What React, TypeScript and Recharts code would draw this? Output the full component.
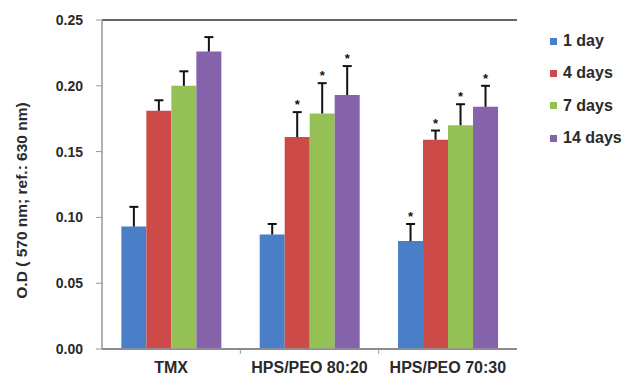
import React from 'react';
import { BarChart, Bar, XAxis, YAxis, CartesianGrid, LabelList } from 'recharts';

const categories = ['TMX', 'HPS/PEO 80:20', 'HPS/PEO 70:30'];
const seriesNames = ['1 day', '4 days', '7 days', '14 days'];
const seriesColors = ['#4a7fc8', '#cc4a48', '#95c055', '#8463aa'];
const day1 = [0.093, 0.087, 0.082];
const day4 = [0.181, 0.161, 0.159];
const day7 = [0.200, 0.179, 0.170];
const day14 = [0.226, 0.193, 0.184];
const err1 = [0.015, 0.008, 0.013];
const err4 = [0.008, 0.019, 0.007];
const err7 = [0.011, 0.023, 0.016];
const err14 = [0.011, 0.022, 0.016];
const star1 = [false, false, true];
const star4 = [false, true, true];
const star7 = [false, true, true];
const star14 = [false, true, true];
const yTicks = [0, 0.05, 0.1, 0.15, 0.2, 0.25];
const yLabel = 'O.D ( 570 nm; ref.: 630 nm)';

const values = [day1, day4, day7, day14];
const errors = [err1, err4, err7, err14];
const stars = [star1, star4, star7, star14];
const keys = ['d1', 'd4', 'd7', 'd14'];

const data = categories.map((c, i) => ({
  name: c,
  d1: values[0][i],
  d4: values[1][i],
  d7: values[2][i],
  d14: values[3][i],
}));

const FONT = 'Liberation Sans, Arial, sans-serif';

const makeErr = (s: number) => (props: any) => {
  const { x, y, width, height, value, index } = props;
  const v = Number(value);
  if (!v || !height) return null;
  const pxPerUnit = height / v;
  const e = errors[s][index] * pxPerUnit;
  const cx = x + width / 2;
  const top = y - e;
  return (
    <g>
      <line x1={cx} y1={y} x2={cx} y2={top} stroke="#111" strokeWidth={2} />
      <line x1={cx - 4.5} y1={top} x2={cx + 4.5} y2={top} stroke="#111" strokeWidth={2} />
      {stars[s][index] ? (
        <text x={cx} y={top - 3} textAnchor="middle" fontSize={13} fontWeight="bold" fontFamily={FONT} fill="#111">*</text>
      ) : null}
    </g>
  );
};

const XTick = (props: any) => {
  const { x, y, payload, index } = props;
  const off = payload.offset || 0;
  return (
    <g>
      <text x={x} y={y + 16} textAnchor="middle" fontSize={16} fontWeight="bold" fontFamily={FONT} fill="#2a2a2a">
        {payload.value}
      </text>
      {index < categories.length - 1 ? (
        <line x1={x + off} y1={y - 8} x2={x + off} y2={y - 3} stroke="#999" strokeWidth={1} />
      ) : null}
    </g>
  );
};

const YLabel = (props: any) => {
  const vb = props.viewBox || {};
  const cy = (vb.y || 0) + (vb.height || 0) / 2 + 16;
  const cx = 27;
  return (
    <text
      x={cx}
      y={cy}
      transform={`rotate(-90 ${cx} ${cy})`}
      textAnchor="middle"
      fontSize={15.5}
      fontWeight="bold"
      fontFamily={FONT}
      fill="#2a2a2a"
    >
      {yLabel}
    </text>
  );
};

export default function App() {
  return (
    <div style={{ position: 'absolute', left: 0, top: 0, width: 625, height: 375, background: '#fff' }}>
      <BarChart
        width={625}
        height={375}
        data={data}
        margin={{ top: 20, right: 108, bottom: 0, left: 0 }}
        barCategoryGap="14%"
        barGap={0}
      >
        <CartesianGrid vertical={false} stroke="#333" strokeWidth={1.5} />
        <XAxis
          dataKey="name"
          height={26}
          tick={<XTick />}
          tickLine={false}
          axisLine={{ stroke: '#999', strokeWidth: 1.5 }}
          interval={0}
        />
        <YAxis
          yAxisId="left"
          width={102}
          domain={[0, 0.25]}
          ticks={yTicks}
          tickFormatter={(v: number) => v.toFixed(2)}
          tick={{ fontSize: 14, fontWeight: 'bold', fontFamily: FONT, fill: '#2a2a2a' }}
          tickSize={6}
          tickMargin={13}
          tickLine={{ stroke: '#999' }}
          axisLine={{ stroke: '#999', strokeWidth: 1.5 }}
          label={<YLabel />}
        />
        <YAxis
          yAxisId="right"
          orientation="right"
          width={0}
          domain={[0, 0.25]}
          tick={false}
          tickLine={false}
          axisLine={{ stroke: '#999', strokeWidth: 1.5 }}
        />
        {keys.map((k, s) => (
          <Bar key={k} yAxisId="left" dataKey={k} name={seriesNames[s]} fill={seriesColors[s]} isAnimationActive={false}>
            <LabelList dataKey={k} content={makeErr(s)} />
          </Bar>
        ))}
      </BarChart>
      <div style={{ position: 'absolute', left: 550, top: 25, fontFamily: FONT }}>
        {seriesNames.map((n, s) => (
          <div key={n} style={{ display: 'flex', alignItems: 'center', height: 32.3 }}>
            <div style={{ width: 7, height: 7, background: seriesColors[s], marginRight: 6 }} />
            <span style={{ fontSize: 16, fontWeight: 'bold', color: '#2a2a2a', lineHeight: '20px' }}>{n}</span>
          </div>
        ))}
      </div>
    </div>
  );
}
